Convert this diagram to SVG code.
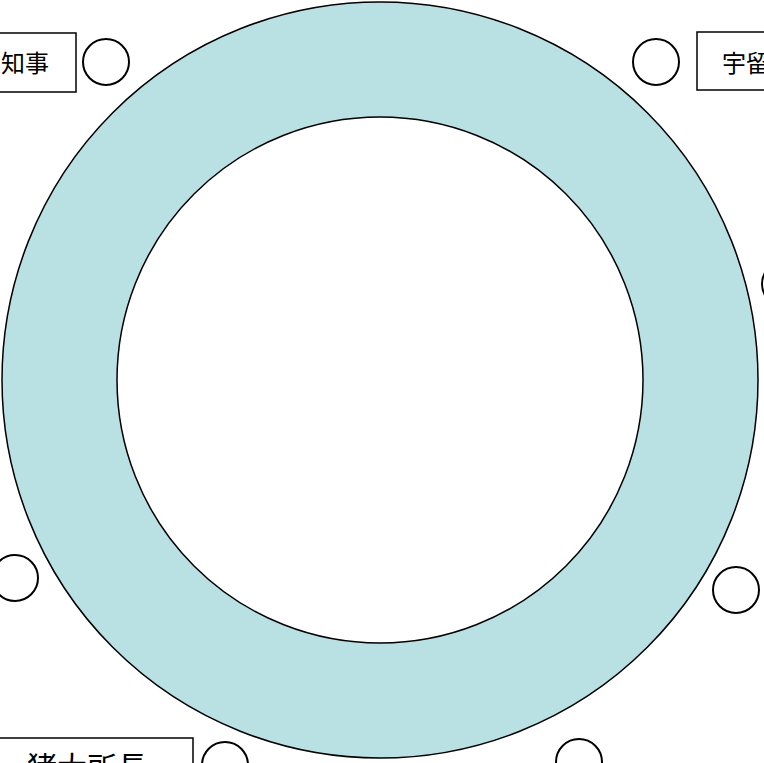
<svg xmlns="http://www.w3.org/2000/svg" width="764" height="763" viewBox="0 0 764 763">
<style>
.ring{fill:#B9E0E3;stroke:#000;stroke-width:1.5}
.hole{fill:#fff;stroke:#000;stroke-width:1.5}
.dot{fill:#fff;stroke:#000;stroke-width:2}
.box{fill:#fff;stroke:#000;stroke-width:1.5}
.lbl{font-family:"Noto Sans CJK JP","Noto Sans CJK SC",sans-serif;fill:#000}
</style>
<rect width="764" height="763" fill="#fff"/>
<g id="ring">
<circle class="ring" cx="380" cy="380" r="378"/>
<circle class="hole" cx="380" cy="380" r="263"/>
</g>
<g id="node-chiji">
<rect class="box" x="-60" y="33" width="136" height="59"/>
<text class="lbl" x="49" y="72" font-size="24" text-anchor="end">知事</text>
</g>
<g id="dot-tl"><circle class="dot" cx="106" cy="62" r="23"/></g>
<g id="dot-tr"><circle class="dot" cx="656" cy="62" r="23"/></g>
<g id="node-uru">
<rect class="box" x="697" y="32" width="120" height="58"/>
<text class="lbl" x="722" y="72" font-size="24">宇留</text>
</g>
<g id="dot-r"><circle class="dot" cx="785" cy="284" r="23"/></g>
<g id="dot-l"><circle class="dot" cx="15" cy="578" r="23"/></g>
<g id="dot-br"><circle class="dot" cx="736" cy="590" r="23"/></g>
<g id="node-shocho">
<rect class="box" x="-20" y="738" width="213" height="60"/>
<text class="lbl" x="27" y="778" font-size="30">猪大所長</text>
</g>
<g id="dot-bl"><circle class="dot" cx="225" cy="765" r="23"/></g>
<g id="dot-b"><circle class="dot" cx="579" cy="762" r="23"/></g>
<g id="connectors"></g>
</svg>
